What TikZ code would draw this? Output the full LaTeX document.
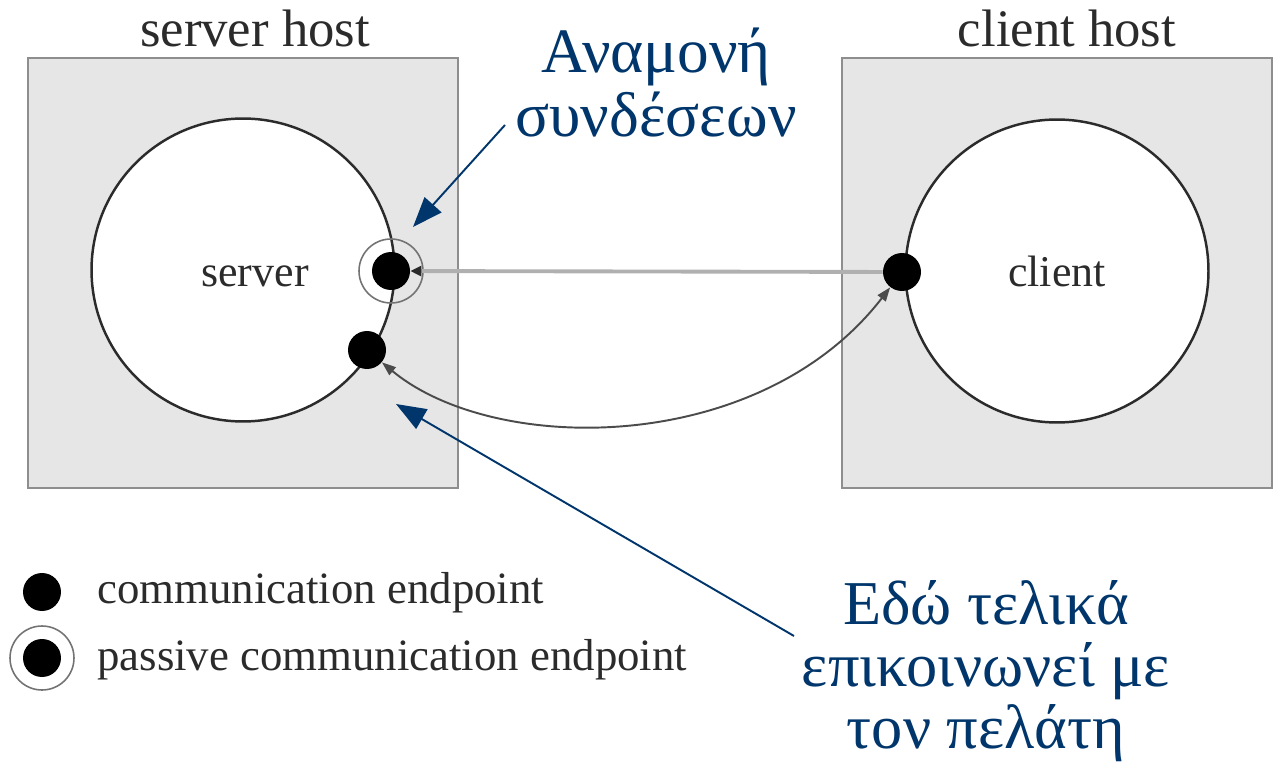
\documentclass[tikz,border=0pt]{standalone}
\usepackage{fontspec}
\setmainfont{Liberation Serif}
\usetikzlibrary{arrows.meta}
\definecolor{hostfill}{HTML}{E6E6E6}
\definecolor{hostline}{HTML}{8E8E8E}
\definecolor{notes}{RGB}{0,54,107}
\definecolor{wire}{HTML}{B0B0B0}
\definecolor{ink}{HTML}{2B2B2B}

\begin{document}
\begin{tikzpicture}[x=0.02cm,y=-0.02cm,
  host/.style={draw=hostline, fill=hostfill, line width=1.2pt, minimum size=8.6cm, inner sep=0},
  proc/.style={circle, draw=ink, fill=white, line width=1.4pt, minimum size=6.06cm, inner sep=0},
  endpt/.style={circle, fill=black, minimum size=0.76cm, inner sep=0},
  ring/.style={circle, draw=black!55, line width=0.9pt, minimum size=1.28cm, inner sep=0},
  title/.style={font=\fontsize{30}{36}\selectfont, text=ink, inner sep=0, anchor=base},
  label/.style={font=\fontsize{25}{30}\selectfont, text=ink, inner sep=0, anchor=base},
  legend/.style={font=\fontsize{25.5}{30}\selectfont, text=ink, inner sep=0, anchor=base west},
  note/.style={text=notes, inner sep=0, anchor=base, align=center},
  callout/.style={draw=notes, line width=1.1pt, -{Triangle[length=0.6cm, width=0.45cm]}},
  wireline/.style={draw=wire, line width=2.2pt, -{Triangle[length=0.22cm, width=0.2cm, color=ink]}},
  link/.style={draw=ink!85, line width=1.1pt, {Triangle[length=0.28cm, width=0.2cm]}-{Triangle[length=0.28cm, width=0.2cm]}}
]
\useasboundingbox (0,0) rectangle (1277,763);

% host boxes
\node[host] (shost) at (243,273) {};
\node[host] (chost) at (1057,273) {};
\node[title] (stitle) at (255,47) {server host};
\node[title] (ctitle) at (1067,47) {client host};

% processes
\node[proc] (server) at (243,270) {};
\node[proc] (client) at (1057,271) {};
\node[label] (slabel) at (255,287) {server};
\node[label] (clabel) at (1057,287) {client};

% endpoints
\node[ring] (pring) at (391,271) {};
\node[endpt] (pdot) at (391,271) {};
\node[endpt] (ep) at (367,350) {};
\node[endpt] (cep) at (902,272) {};

% connections
\draw[wireline] (cep) -- (pdot);
\draw[link] (ep) .. controls (495,456) and (760,456) .. (cep);

% notes (anchored at the baseline of the last line)
\node[note, font=\fontsize{36}{36.8}\selectfont] (wait) at (656,137) {Αναμονή\\συνδέσεων};
\coordinate (waittail) at (505,125);
\coordinate (waittip) at (413,227);
\draw[callout] (waittail) -- (waittip);

\node[note, font=\fontsize{35.5}{35.2}\selectfont] (meet) at (986,748) {Εδώ τελικά\\επικοινωνεί με\\τον πελάτη};
\coordinate (meettail) at (794,636);
\coordinate (meettip) at (396,404);
\draw[callout] (meettail) -- (meettip);

% legend
\node[endpt] (lg1) at (42,592) {};
\node[legend] (lg1text) at (97,603) {communication endpoint};
\node[ring] (lg2ring) at (42,658) {};
\node[endpt] (lg2) at (42,658) {};
\node[legend] (lg2text) at (97,670) {passive communication endpoint};
\end{tikzpicture}
\end{document}
